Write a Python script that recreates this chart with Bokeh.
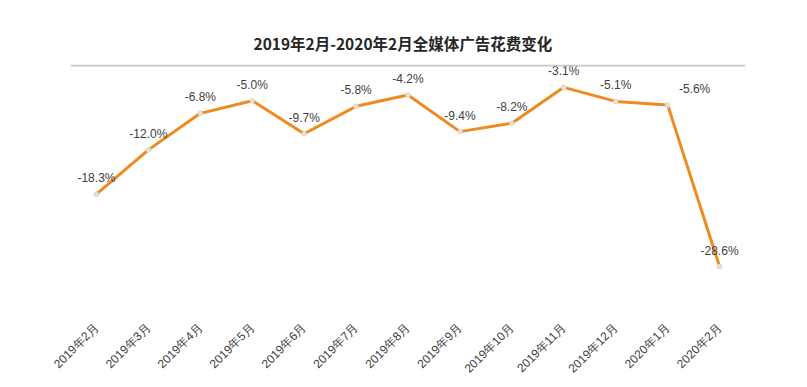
import math
from bokeh.plotting import figure
from bokeh.models import ColumnDataSource, Range1d, FactorRange, Span
from bokeh.core.properties import value
from bokeh.embed import file_html
from bokeh.resources import INLINE

months = ["2019年2月", "2019年3月", "2019年4月", "2019年5月", "2019年6月", "2019年7月",
          "2019年8月", "2019年9月", "2019年10月", "2019年11月", "2019年12月", "2020年1月", "2020年2月"]
change = [-18.3, -12.0, -6.8, -5.0, -9.7, -5.8, -4.2, -9.4, -8.2, -3.1, -5.1, -5.6, -28.6]
labels = ["%.1f%%" % v for v in change]
title_text = "2019年2月-2020年2月全媒体广告花费变化"

src = ColumnDataSource(dict(x=months, y=change, label=labels))

p = figure(frame_width=675, frame_height=247, output_backend="svg", toolbar_location=None,
           x_range=FactorRange(*months, range_padding=0), y_range=Range1d(-35, 0.15),
           min_border_left=70, min_border_right=46, min_border_top=64, min_border_bottom=60,
           title=title_text)
p.outline_line_color = None
p.background_fill_color = "white"
p.border_fill_color = "white"
p.xgrid.visible = False
p.ygrid.visible = False
p.yaxis.visible = False

p.title.align = "left"
p.title.offset = 183
p.title.text_font = "Noto Sans CJK SC"
p.title.text_font_style = "bold"
p.title.text_font_size = "15.5px"
p.title.text_color = "#262626"
p.title.standoff = 21

ax = p.xaxis[0]
ax.axis_line_color = None
ax.major_tick_line_color = None
ax.minor_tick_line_color = None
ax.major_label_orientation = math.pi / 4
ax.major_label_standoff = 8
ax.major_label_text_font = "Liberation Sans"
ax.major_label_text_font_size = "12px"
ax.major_label_text_color = "#404040"

p.add_layout(Span(location=0, dimension="width", line_color="#c8c8c8", line_width=2))

p.line("x", "y", source=src, line_color="#EF8A1E", line_width=3)
p.scatter("x", "y", source=src, size=5, fill_color="#e6e0da", line_color="#d0c8c0", line_width=0.5)

main_idx = [i for i in range(len(months)) if i != 11]
src_main = ColumnDataSource(dict(x=[months[i] for i in main_idx], y=[change[i] for i in main_idx],
                                 label=[labels[i] for i in main_idx]))
src_side = ColumnDataSource(dict(x=[months[11]], y=[change[11]], label=[labels[11]]))

p.text("x", "y", text="label", source=src_main, text_align="center", text_baseline="middle",
       y_offset=-16, text_font=value("Liberation Sans"), text_font_size="12px", text_color="#404040")
p.text("x", "y", text="label", source=src_side, text_align="center", text_baseline="middle",
       x_offset=27, y_offset=-16, text_font=value("Liberation Sans"), text_font_size="12px",
       text_color="#404040")

open("out.html", "w").write(file_html(p, INLINE))
